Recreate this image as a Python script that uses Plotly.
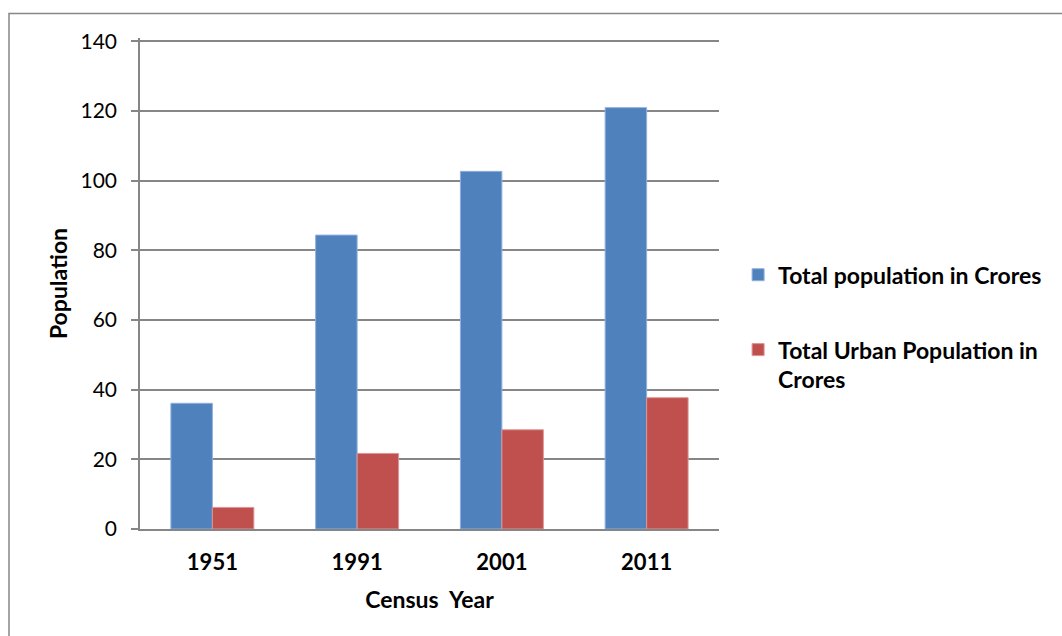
import plotly.graph_objects as go

years = ["1951", "1991", "2001", "2011"]
total_pop = [36.1, 84.4, 102.7, 121.0]
urban_pop = [6.2, 21.7, 28.5, 37.7]
series_names = ["Total population in Crores", "Total Urban Population in<br>Crores"]
colors = ["#4F81BD", "#C0504D"]
edge_colors = ["#8EB0DD", "#DB9694"]

W, H = 1062, 636
Y_MAX = 141
L, R, B = 140, 719, 529
T = B - 488 * Y_MAX / 140
pw, ph = R - L, B - T

fig = go.Figure()
for name, vals, c, ec, grp in zip(series_names, [total_pop, urban_pop], colors, edge_colors, ["a", "b"]):
    fig.add_trace(go.Bar(x=years, y=vals, name=name, marker=dict(color=c, line=dict(color=ec, width=1)),
                         legendgroup=grp))

FONT = "Lato"
fig.update_layout(
    width=W, height=H,
    margin=dict(l=L, r=W - R, t=T, b=H - B, pad=0),
    paper_bgcolor="white", plot_bgcolor="white",
    font=dict(family=FONT, color="black", size=22),
    bargap=0.427, bargroupgap=0,
    barmode="group",
    legend=dict(x=1.033, y=(B - 253) / ph, xanchor="left", yanchor="top", valign="top",
                font=dict(family=FONT, size=23, color="black", weight="bold"),
                tracegroupgap=42, itemwidth=30, bgcolor="rgba(0,0,0,0)"),
    xaxis=dict(type="category", showline=True, linecolor="#868686", linewidth=2,
               ticks="", tickfont=dict(family=FONT, size=22, weight="bold"),
               ticklabelstandoff=13,
               title=dict(text="Census  Year", font=dict(family=FONT, size=23, weight="bold"), standoff=17),
               showgrid=False, fixedrange=True),
    yaxis=dict(range=[0, Y_MAX], tickvals=[0, 20, 40, 60, 80, 100, 120, 140], showline=True,
               linecolor="#868686", linewidth=1.5,
               ticks="outside", ticklen=7, tickcolor="#868686", tickwidth=1.5,
               ticklabelstandoff=10,
               showgrid=True, gridcolor="#868686", gridwidth=1.5,
               tickfont=dict(family=FONT, size=21),
               title=dict(text="Population", font=dict(family=FONT, size=23, weight="bold"), standoff=6),
               zeroline=False),
)

# outer chart border
fig.add_shape(type="rect", xref="paper", yref="paper",
              x0=(9 - L) / pw, x1=(W + 5 - L) / pw,
              y0=(B - (H + 5)) / ph, y1=(B - 13) / ph,
              line=dict(color="#868686", width=1.5), layer="below")

fig.write_html("out.html")
